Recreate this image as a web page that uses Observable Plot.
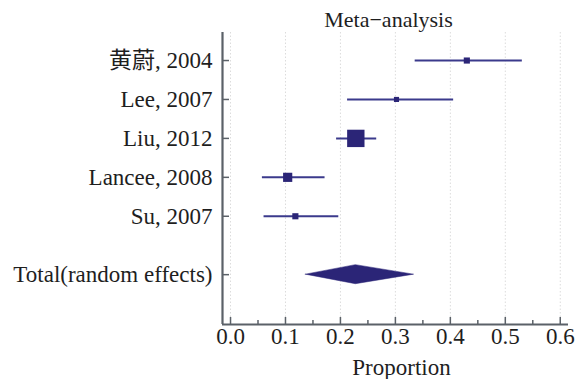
<!DOCTYPE html>
<html><head><meta charset="utf-8">
<script src="https://cdn.jsdelivr.net/npm/d3@7"></script>
<script src="https://cdn.jsdelivr.net/npm/@observablehq/plot@0.6"></script>
<style>
html,body{margin:0;padding:0;background:#fff;}
svg, svg text{font-family:"Liberation Serif","Noto Sans CJK SC",serif !important;}
</style>
</head><body>
<div id="chart"></div>
<script>
// Data
const studies = ["黄蔚, 2004", "Lee, 2007", "Liu, 2012", "Lancee, 2008", "Su, 2007"];
const rows = [1, 2, 3, 4, 5];
const estimates = [0.430, 0.302, 0.228, 0.104, 0.118];
const lowers = [0.336, 0.213, 0.193, 0.058, 0.061];
const uppers = [0.531, 0.406, 0.266, 0.172, 0.197];
const weights = [7.7, 5.4, 61.9, 17.3, 7.7];
const totalLabel = "Total(random effects)";
const totalRow = 6.5;
const totalEstimate = 0.228;
const totalLower = 0.137;
const totalUpper = 0.334;
const xTicks = [0, 0.1, 0.2, 0.3, 0.4, 0.5, 0.6];
const xMinorTicks = [0.05, 0.15, 0.25, 0.35, 0.45, 0.55];

const studyData = studies.map((s, i) => ({study: s, row: rows[i], est: estimates[i], lo: lowers[i], hi: uppers[i], w: weights[i]}));
const yTicks = [...rows, totalRow];
const yLabels = new Map([...rows.map((r, i) => [r, studies[i]]), [totalRow, totalLabel]]);

const halfH = 0.245; // diamond half-height in row units
const diamond = [
  {x: totalLower, y1: totalRow, y2: totalRow},
  {x: totalEstimate, y1: totalRow - halfH, y2: totalRow + halfH},
  {x: totalUpper, y1: totalRow, y2: totalRow}
];

const xDomain = [-0.0146, 0.615];
const yDomain = [0.28, 7.78];
const spine = "#5b6168";
const navy = "#2b2577";
const fs = 23;

const chart = Plot.plot({
  width: 585,
  height: 379,
  marginLeft: 222,
  marginRight: 17,
  marginTop: 32,
  marginBottom: 55,
  style: {fontSize: fs + "px", color: "#1e1e1e"},
  x: {domain: xDomain},
  y: {domain: yDomain, reverse: true},
  r: {type: "sqrt", domain: [0, 61.9], range: [0, 9.8]},
  marks: [
    Plot.ruleX(xTicks, {stroke: "#dcdcdc", strokeDasharray: "1.5,2", strokeWidth: 1}),
    // spines
    Plot.ruleX([xDomain[0]], {stroke: spine, strokeWidth: 2.2}),
    Plot.ruleY([yDomain[1]], {stroke: spine, strokeWidth: 2.2}),
    // x axis: major + minor ticks inward
    Plot.axisX({ticks: xTicks, tickSize: -7, tickPadding: 10, tickFormat: d3.format(".1f"), stroke: spine, strokeWidth: 1.5, label: null, fill: "#1e1e1e", fontSize: fs}),
    Plot.axisX({ticks: xMinorTicks, tickSize: -4, tickFormat: () => "", stroke: spine, strokeWidth: 1.5, label: null}),
    Plot.text(["Proportion"], {frameAnchor: "bottom", dx: 6, dy: 50, text: d => d, fontSize: fs, fill: "#1e1e1e"}),
    Plot.text(["Meta\u2212analysis"], {frameAnchor: "top", dx: -7, dy: -21, text: d => d, fontSize: fs - 1, fill: "#1e1e1e"}),
    // y axis
    Plot.axisY({ticks: yTicks, tickSize: -7, tickPadding: 17, tickFormat: d => yLabels.get(d), stroke: spine, strokeWidth: 1.5, label: null, fill: "#1e1e1e", fontSize: fs}),
    // CIs
    Plot.ruleY(studyData, {y: "row", x1: "lo", x2: "hi", stroke: "#3b3a8c", strokeWidth: 2}),
    Plot.dot(studyData, {x: "est", y: "row", r: "w", symbol: "square", fill: navy, stroke: "none"}),
    // pooled diamond
    Plot.areaY(diamond, {x: "x", y1: "y1", y2: "y2", fill: navy, stroke: navy, strokeWidth: 0.5})
  ]
});
document.getElementById("chart").appendChild(chart);
</script>
</body></html>
